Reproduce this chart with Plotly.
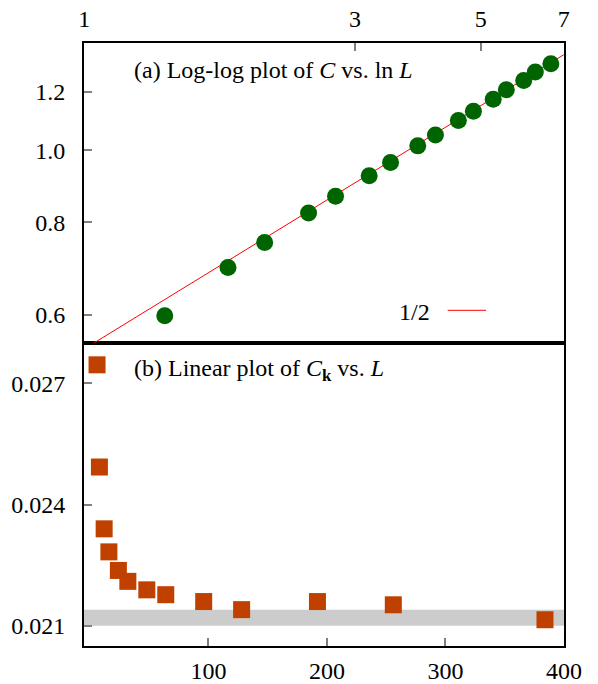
import numpy as np
import plotly.graph_objects as go

# ---- Panel (a): C vs ln L (log-log) ----
L_a = [4, 6, 8, 12, 16, 24, 32, 48, 64, 96, 128, 192, 256, 384, 512, 768]
C_a = [0.598, 0.695, 0.751, 0.823, 0.867, 0.924, 0.963, 1.014, 1.049,
       1.097, 1.129, 1.172, 1.207, 1.242, 1.276, 1.309]
lnL_a = np.log(L_a)

# reference line labelled "1/2"
line_x = [1.0, 7.0]
line_y = [0.5395, 1.346]

# ---- Panel (b): C_k vs L (linear) ----
L_b = [6, 8, 12, 16, 24, 32, 48, 64, 96, 128, 192, 256, 384]
Ck_b = [0.02746, 0.02493, 0.02340, 0.02283, 0.02237, 0.02210, 0.02189,
        0.02177, 0.02160, 0.02140, 0.02160, 0.02152, 0.02115]
band_lo, band_hi = 0.0210, 0.0214

xa_ticks = [1, 3, 5, 7]
ya_ticks = [0.6, 0.8, 1.0, 1.2]
xb_ticks = [100, 200, 300, 400]
yb_ticks = [0.021, 0.024, 0.027]

FONT = "Liberation Serif"
FS = 24
TICKC = "#808080"

fig = go.Figure()

fig.add_trace(go.Scatter(x=line_x, y=line_y, mode="lines",
                         line=dict(color="#ff0000", width=1),
                         xaxis="x2", yaxis="y2", showlegend=False))
fig.add_trace(go.Scatter(x=lnL_a, y=C_a, mode="markers",
                         marker=dict(symbol="circle", size=17, color="#006400",
                                     line=dict(width=0)),
                         xaxis="x2", yaxis="y2", showlegend=False))
fig.add_trace(go.Scatter(x=L_b, y=Ck_b, mode="markers",
                         marker=dict(symbol="square", size=17, color="#c04000",
                                     line=dict(width=0)),
                         xaxis="x", yaxis="y", showlegend=False, cliponaxis=False))

split = 0.5025
axcommon = dict(showline=True, linecolor="black", linewidth=2, mirror=True,
                ticks="inside", ticklen=8, tickwidth=1.5, tickcolor=TICKC,
                showgrid=False, zeroline=False, automargin=False,
                tickfont=dict(family=FONT, size=FS, color="black"))

fig.update_layout(
    width=598, height=684,
    margin=dict(l=84, r=34, t=43, b=38),
    paper_bgcolor="white", plot_bgcolor="white",
    font=dict(family=FONT, size=FS, color="black"),
    xaxis=dict(domain=[0, 1], anchor="y", range=[-5, 400.05],
               tickvals=xb_ticks, ticklabelstandoff=2, **axcommon),
    yaxis=dict(domain=[0, split], anchor="x", range=[0.0205, 0.028],
               tickvals=yb_ticks, ticktext=["%.3f" % v for v in yb_ticks],
               ticklabelstandoff=12, **axcommon),
    xaxis2=dict(domain=[0, 1], anchor="y2", side="top", type="log",
                range=[-0.0005, np.log10(7) + 0.0005],
                tickvals=xa_ticks, ticktext=[str(v) for v in xa_ticks],
                ticklabelstandoff=4, **axcommon),
    yaxis2=dict(domain=[split, 1], anchor="x2", type="log",
                range=[np.log10(0.5495), np.log10(1.396)],
                tickvals=ya_ticks, ticktext=["%.1f" % v for v in ya_ticks],
                ticklabelstandoff=12, **axcommon),
    shapes=[
        dict(type="rect", xref="x domain", yref="y", x0=0, x1=1,
             y0=band_lo, y1=band_hi, fillcolor="#cccccc",
             line=dict(width=0), layer="below"),
        # legend key sample for the "1/2" line
        dict(type="line", xref="paper", yref="paper", x0=0.7577, x1=0.8375,
             y0=0.5567, y1=0.5567, line=dict(color="#ff0000", width=1)),
    ],
    annotations=[
        dict(text="(a) Log-log plot of <i>C</i> vs. ln <i>L</i>", xref="paper", yref="paper",
             x=0.1006, y=0.9552, xanchor="left", yanchor="middle", showarrow=False,
             font=dict(family=FONT, size=FS)),
        dict(text="(b) Linear plot of <i>C</i><sub><b>k</b></sub> vs. <i>L</i>",
             xref="paper", yref="paper",
             x=0.1006, y=0.4577, xanchor="left", yanchor="middle", showarrow=False,
             font=dict(family=FONT, size=FS)),
        dict(text="1/2", xref="paper", yref="paper", x=0.7256, y=0.5544,
             xanchor="right", yanchor="middle", showarrow=False,
             font=dict(family=FONT, size=FS)),
    ],
)

fig.write_html("out.html")
